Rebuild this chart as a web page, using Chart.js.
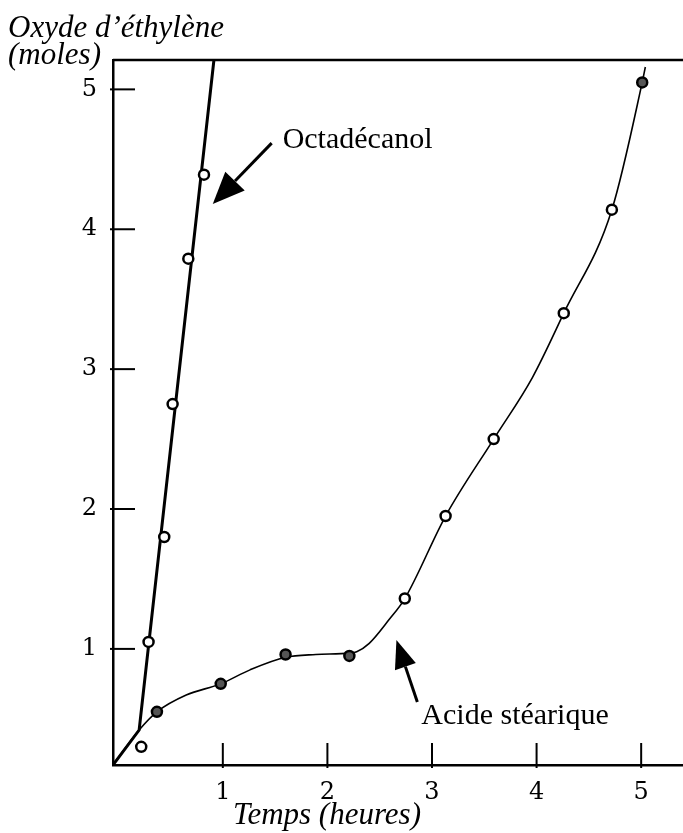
<!DOCTYPE html>
<html lang="fr">
<head>
<meta charset="utf-8">
<title>Oxyde d'éthylène</title>
<script src="https://cdn.jsdelivr.net/npm/chart.js@4.4.1/dist/chart.umd.min.js"></script>
<style>
  html, body { margin: 0; padding: 0; background: #fff; }
  #wrap { width: 683px; height: 833px; }
</style>
</head>
<body>
<div id="wrap"><canvas id="courbes" width="683" height="833"></canvas></div>
<script>
// Octadécanol : mesures et droite tracée
var octTemps = [0.22, 0.29, 0.44, 0.52, 0.67, 0.82];
var octMoles = [0.30, 1.05, 1.80, 2.75, 3.79, 4.39];
var octDroiteTemps = [-0.05, 0.20, 0.915];
var octDroiteMoles = [0.17, 0.42, 5.21];

// Acide stéarique : mesures et courbe lissée
var acideTemps = [0.37, 0.98, 1.60, 2.21, 2.74, 3.13, 3.59, 4.26, 4.72, 5.01];
var acideMoles = [0.55, 0.75, 0.96, 0.95, 1.36, 1.95, 2.50, 3.40, 4.14, 5.05];
var acideCourbeTemps = [-0.05, 0.20, 0.37, 0.65, 0.98, 1.26, 1.60, 1.89, 2.21, 2.28, 2.40, 2.59, 2.74, 3.13, 3.59, 3.96, 4.26, 4.72, 5.01, 5.04];
var acideCourbeMoles = [0.17, 0.42, 0.55, 0.67, 0.75, 0.85, 0.94, 0.96, 0.97, 0.98, 1.04, 1.21, 1.36, 1.95, 2.50, 2.94, 3.40, 4.14, 5.05, 5.16];

var xTicks = [1, 2, 3, 4, 5];
var yTicks = [1, 2, 3, 4, 5];

function points(xs, ys) {
    return xs.map(function (x, i) { return { x: x, y: ys[i] }; });
}

// flèches et légendes, en coordonnées des axes
var notes = [
    { texte: "Octadécanol", tx: 1.572, ty: 4.58, de: [1.467, 4.616], vers: [0.904, 4.18], tete: 32, large: 27 },
    { texte: "Acide stéarique", tx: 2.898, ty: 0.463, de: [2.86, 0.62], vers: [2.66, 1.063], tete: 28, large: 22 }
];

function fleche(ctx, x1, y1, x2, y2, tete, large) {
    var ang = Math.atan2(y2 - y1, x2 - x1);
    var bx = x2 - Math.cos(ang) * tete, by = y2 - Math.sin(ang) * tete;
    ctx.lineWidth = 3;
    ctx.beginPath();
    ctx.moveTo(x1, y1);
    ctx.lineTo(bx, by);
    ctx.stroke();
    var nx = -Math.sin(ang) * large / 2, ny = Math.cos(ang) * large / 2;
    ctx.beginPath();
    ctx.moveTo(x2, y2);
    ctx.lineTo(bx + nx, by + ny);
    ctx.lineTo(bx - nx, by - ny);
    ctx.closePath();
    ctx.fill();
}

var habillage = {
    id: "habillage",
    afterDraw: function (chart) {
        var ctx = chart.ctx, xs = chart.scales.x, ys = chart.scales.y, a = chart.chartArea;
        ctx.save();
        ctx.strokeStyle = "#000";
        ctx.fillStyle = "#000";
        ctx.lineCap = "butt";

        // bord supérieur du cadre
        ctx.lineWidth = 2.5;
        ctx.beginPath();
        ctx.moveTo(a.left, a.top);
        ctx.lineTo(a.right, a.top);
        ctx.stroke();

        // graduations tournées vers l'intérieur
        ctx.lineWidth = 2;
        xTicks.forEach(function (v) {
            var px = xs.getPixelForValue(v);
            ctx.beginPath();
            ctx.moveTo(px, a.bottom + 3);
            ctx.lineTo(px, a.bottom - 22);
            ctx.stroke();
        });
        yTicks.forEach(function (v) {
            var py = ys.getPixelForValue(v);
            ctx.beginPath();
            ctx.moveTo(a.left - 3, py);
            ctx.lineTo(a.left + 22, py);
            ctx.stroke();
        });

        // titres des axes
        ctx.font = "italic 31px 'Liberation Serif'";
        ctx.textBaseline = "alphabetic";
        ctx.textAlign = "left";
        ctx.fillText("Oxyde d\u2019éthylène", 8, 37);
        ctx.fillText("(moles)", 8, 64);
        ctx.textAlign = "center";
        ctx.fillText("Temps (heures)", 327, 824);

        // légendes fléchées
        ctx.font = "30px 'Liberation Serif'";
        ctx.textAlign = "left";
        notes.forEach(function (n) {
            fleche(ctx,
                xs.getPixelForValue(n.de[0]), ys.getPixelForValue(n.de[1]),
                xs.getPixelForValue(n.vers[0]), ys.getPixelForValue(n.vers[1]),
                n.tete, n.large);
            ctx.fillText(n.texte, xs.getPixelForValue(n.tx), ys.getPixelForValue(n.ty));
        });
        ctx.restore();
    }
};

var policeTicks = { family: "'DejaVu Serif'", size: 24 };

function sansMarge(s) {
    s.paddingLeft = 0;
    s.paddingRight = 0;
    s.paddingTop = 0;
    s.paddingBottom = 0;
}

new Chart(document.getElementById("courbes"), {
    type: "scatter",
    data: {
        datasets: [
            {
                label: "Octadécanol",
                data: points(octTemps, octMoles),
                showLine: false,
                pointRadius: 5,
                pointBorderWidth: 2.5,
                borderColor: "#000",
                backgroundColor: "#fff",
                order: 0
            },
            {
                label: "Acide stéarique",
                data: points(acideTemps, acideMoles),
                showLine: false,
                pointRadius: 5,
                pointBorderWidth: 2.5,
                borderColor: "#000",
                backgroundColor: ["#555", "#555", "#555", "#555", "#fff", "#fff", "#fff", "#fff", "#fff", "#555"],
                order: 0
            },
            {
                label: "Octadécanol (droite)",
                data: points(octDroiteTemps, octDroiteMoles),
                showLine: true,
                borderColor: "#000",
                borderWidth: 3,
                pointRadius: 0,
                tension: 0,
                order: 1
            },
            {
                label: "Acide stéarique (courbe)",
                data: points(acideCourbeTemps, acideCourbeMoles),
                showLine: true,
                borderColor: "#000",
                borderWidth: 1.6,
                pointRadius: 0,
                cubicInterpolationMode: "monotone",
                order: 1
            }
        ]
    },
    options: {
        responsive: false,
        animation: false,
        layout: {
            autoPadding: false,
            padding: { top: 60, left: 0, right: 0, bottom: 0 }
        },
        plugins: {
            legend: { display: false },
            tooltip: { enabled: false }
        },
        scales: {
            x: {
                type: "linear",
                min: -0.05,
                max: 5.4,
                afterBuildTicks: function (s) {
                    s.ticks = xTicks.map(function (v) { return { value: v }; });
                },
                afterFit: function (s) { s.height = 68; sansMarge(s); },
                grid: { display: false },
                border: { display: true, color: "#000", width: 2.5 },
                ticks: { color: "#000", font: policeTicks, padding: 5 }
            },
            y: {
                type: "linear",
                min: 0.17,
                max: 5.21,
                afterBuildTicks: function (s) {
                    s.ticks = yTicks.map(function (v) { return { value: v }; });
                },
                afterFit: function (s) { s.width = 113; sansMarge(s); },
                grid: { display: false },
                border: { display: true, color: "#000", width: 2.5 },
                ticks: { color: "#000", font: policeTicks, padding: 8 }
            }
        }
    },
    plugins: [habillage]
});
</script>
</body>
</html>
